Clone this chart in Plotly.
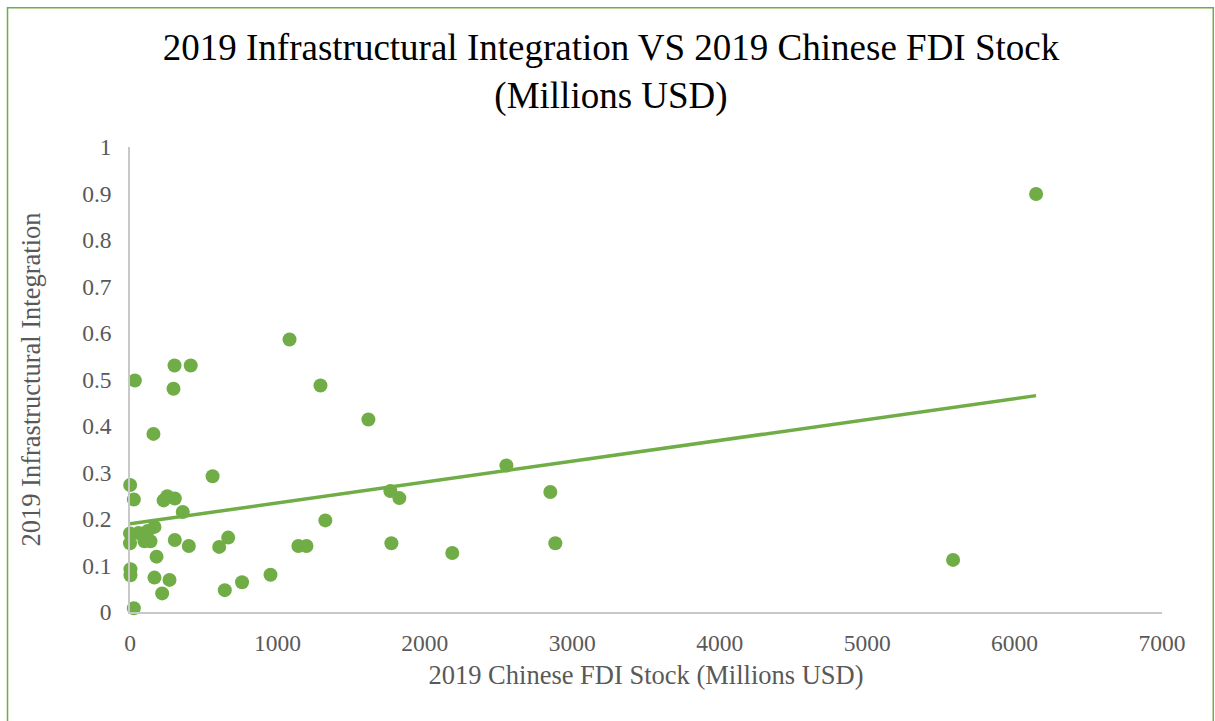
import numpy as np
import plotly.graph_objects as go

# 2019 Chinese FDI stock (millions USD)
fdi_stock = [6146, 5583, 1082, 1292, 1617, 2553, 2851, 2885, 2186, 1766,
             1827, 1773, 1325, 1142, 1197, 953, 760, 643, 666, 605,
             560, 302, 412, 33, 295, 159, 1, 26, 228, 253,
             304, 358, 166, 0, 0, 58, 119, 98, 139, 304,
             399, 180, 3, 3, 166, 268, 218, 26]
# 2019 infrastructural integration index
infra_integration = [0.899, 0.112, 0.586, 0.487, 0.414, 0.315, 0.258, 0.148, 0.127, 0.260,
                     0.245, 0.148, 0.197, 0.142, 0.142, 0.080, 0.064, 0.047, 0.160, 0.140,
                     0.292, 0.530, 0.530, 0.498, 0.480, 0.383, 0.273, 0.242, 0.240, 0.249,
                     0.244, 0.215, 0.183, 0.169, 0.148, 0.170, 0.174, 0.152, 0.152, 0.155,
                     0.142, 0.119, 0.092, 0.079, 0.074, 0.069, 0.040, 0.008]

x_ticks = [0, 1000, 2000, 3000, 4000, 5000, 6000, 7000]
y_ticks = [0, 0.1, 0.2, 0.3, 0.4, 0.5, 0.6, 0.7, 0.8, 0.9, 1]
y_tick_labels = ["0", "0.1", "0.2", "0.3", "0.4", "0.5", "0.6", "0.7", "0.8", "0.9", "1"]

GREEN = "#70AD47"
FONT = "Liberation Serif, Times New Roman, serif"

xa = np.array(fdi_stock, dtype=float)
ya = np.array(infra_integration, dtype=float)
slope, intercept = np.polyfit(xa, ya, 1)
trend_x = np.array([xa.min(), xa.max()])
trend_y = slope * trend_x + intercept

fig = go.Figure()
fig.add_trace(go.Scatter(
    x=fdi_stock, y=infra_integration, mode="markers",
    marker=dict(size=14, color=GREEN, line=dict(width=0)),
    showlegend=False, cliponaxis=False,
))
fig.add_trace(go.Scatter(
    x=trend_x, y=trend_y, mode="lines",
    line=dict(color=GREEN, width=3.5),
    showlegend=False,
))

L, R, T, B = 129.5, 1215 - 1161.7, 146.5, 721 - 612
W, H = 1215 - L - R, 721 - T - B

def px2paper_x(px):
    return (px - L) / W

def py2paper_y(py):
    return (721 - B - py) / H

fig.add_shape(type="rect", xref="paper", yref="paper",
              x0=px2paper_x(7), x1=px2paper_x(1213),
              y0=py2paper_y(740), y1=py2paper_y(7),
              line=dict(color=GREEN, width=1.5), fillcolor="rgba(0,0,0,0)", layer="below")

fig.update_layout(
    width=1215, height=721,
    margin=dict(l=L, r=R, t=T, b=B, pad=0),
    paper_bgcolor="white", plot_bgcolor="white",
    title=dict(
        text="2019 Infrastructural Integration VS 2019 Chinese FDI Stock<br>(Millions USD)",
        x=611 / 1215, xref="container", xanchor="center",
        y=1 - 60 / 721, yref="container", yanchor="middle",
        font=dict(family=FONT, size=37, color="#000000"),
    ),
    xaxis=dict(
        range=[0, 7000], tickvals=x_ticks, ticktext=[str(v) for v in x_ticks],
        showgrid=False, zeroline=False, showline=True, linecolor="#C8C8C8", linewidth=1.5,
        ticks="", ticklabelstandoff=9,
        tickfont=dict(family=FONT, size=23.5, color="#595959"),
        title=dict(text="2019 Chinese FDI Stock (Millions USD)", standoff=10,
                   font=dict(family=FONT, size=26.5, color="#595959")),
    ),
    yaxis=dict(
        range=[0, 1], tickvals=y_ticks, ticktext=y_tick_labels,
        showgrid=False, zeroline=False, showline=True, linecolor="#C8C8C8", linewidth=1.5,
        ticks="", ticklabelstandoff=12,
        tickfont=dict(family=FONT, size=23.5, color="#595959"),
        title=dict(text="2019 Infrastructural Integration", standoff=34,
                   font=dict(family=FONT, size=26.5, color="#595959")),
    ),
)

fig.write_html("out.html")
